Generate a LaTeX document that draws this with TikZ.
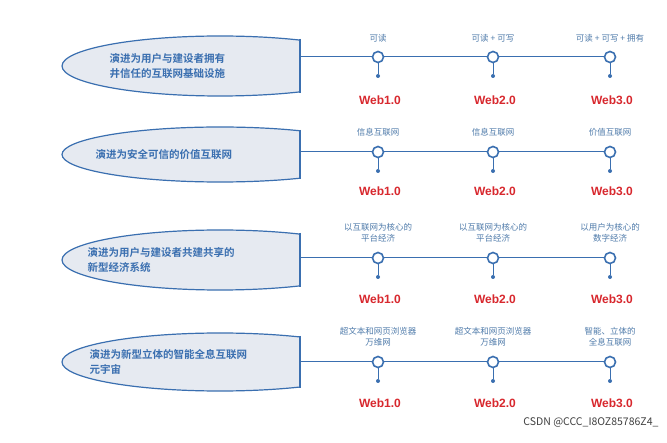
\documentclass[tikz,border=0pt]{standalone}
\usepackage{fontspec}
\setmainfont{Liberation Sans}
\newfontfamily\cjk{Noto Sans CJK SC}
\newfontfamily\cjkb{Noto Sans CJK SC Bold}
\definecolor{lb}{HTML}{3A6FB0}
\definecolor{shf}{HTML}{E6EAF1}
\definecolor{tl}{HTML}{4F7BAA}
\definecolor{wr}{HTML}{D8282E}
\tikzset{x=1pt,y=-1pt,
 hl/.style={lb,line width=1pt},
 ring/.style={circle,draw=lb,line width=1.6pt,fill=white,minimum size=11pt,inner sep=0pt},
 dotn/.style={circle,fill=lb,minimum size=4pt,inner sep=0pt},
 lab/.style={font=\cjk\fontsize{8.5}{11}\selectfont,text=tl,align=center},
 web/.style={font=\bfseries\fontsize{12}{13}\selectfont,text=wr},
 stxt/.style={font=\cjkb\fontsize{10.5}{14.5}\selectfont,text=lb,align=left}}
\begin{document}
\begin{tikzpicture}
\fill[white] (0,0) rectangle (667,443);
\useasboundingbox (0,0) rectangle (667,443);
\newcommand\rowshape[6]{% top, bottom, liney, name, text, textx
 \begin{scope}
  \clip (0,#1-5) rectangle (300,#2+5);
  \filldraw[fill=shf,draw=lb,line width=1.2pt] (220,{(#1+#2)/2}) ellipse (158 and {(#2-#1)/2});
 \end{scope}
 \draw[lb,line width=1.2pt] (300,{#1+3}) -- (300,{#2-3});
 \coordinate (#4s) at (300,#3);
 \node[stxt,anchor=west] (#4t) at (#6,{(#1+#2)/2}) {#5};
}
\newcommand\rowline[7]{% liney, name, lab1, lab2, lab3, laby, weby
 \node[ring] (#2a) at (378,#1) {};
 \node[ring] (#2b) at (493,#1) {};
 \node[ring] (#2c) at (610,#1) {};
 \draw[hl] (#2s) -- (#2a) -- (#2b) -- (#2c);
 \foreach \k/\x in {a/378,b/493,c/610}{
  \node[dotn] (#2\k d) at (\x,#1+19) {};
  \draw[hl] (#2\k) -- (#2\k d);}
 \node[lab,anchor=south] (#2la) at (378,#6) {#3};
 \node[lab,anchor=south] (#2lb) at (493,#6) {#4};
 \node[lab,anchor=south] (#2lc) at (610,#6) {#5};
 \node[web] (#2wa) at (380,#7) {Web1.0};
 \node[web] (#2wb) at (495,#7) {Web2.0};
 \node[web] (#2wc) at (612,#7) {Web3.0};
}
\rowshape{36}{96}{57}{r1}{演进为用户与建设者拥有\\井信任的互联网基础设施}{106}
\rowline{57}{r1}{可读}{可读 + 可写}{可读 + 可写 + 拥有}{46}{100}
\rowshape{127}{182}{152}{r2}{演进为安全可信的价值互联网}{92}
\rowline{152}{r2}{信息互联网}{信息互联网}{价值互联网}{140}{191}
\rowshape{230}{290}{258}{r3}{演进为用户与建设者共建共享的\\新型经济系统}{84}
\rowline{258}{r3}{以互联网为核心的\\平台经济}{以互联网为核心的\\平台经济}{以用户为核心的\\数字经济}{246}{299}
\rowshape{333}{391}{362}{r4}{演进为新型立体的智能全息互联网\\元宇宙}{86}
\rowline{362}{r4}{超文本和网页浏览器\\万维网}{超文本和网页浏览器\\万维网}{智能、立体的\\全息互联网}{350}{403}
\node[font=\cjk\fontsize{10.5}{12}\selectfont,text=black!75,anchor=east] (wm) at (662,422) {CSDN @CCC\_I8OZ85786Z4\_};
\end{tikzpicture}
\end{document}
